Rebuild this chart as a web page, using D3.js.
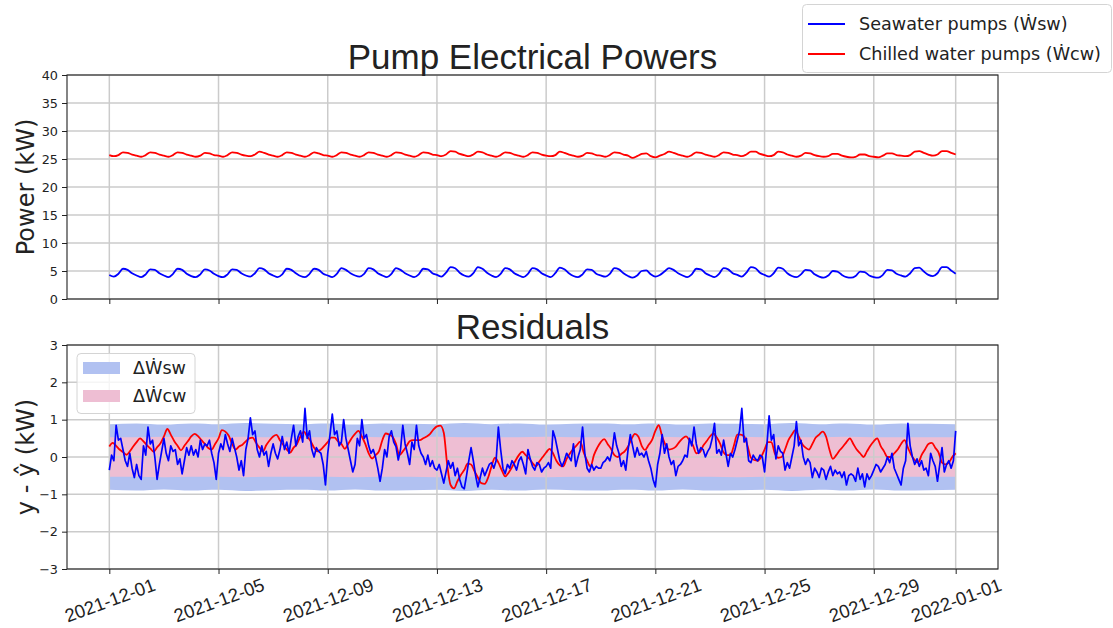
<!DOCTYPE html>
<html>
<head>
<meta charset="utf-8">
<script src="https://cdn.jsdelivr.net/npm/d3@7"></script>
<style>
  body { margin: 0; background: #fff; }
  svg text { font-family: "DejaVu Sans", sans-serif; fill: #222; }
</style>
</head>
<body>
<div id="plot"></div>
<script>
// series start 2021-12-01 00:00 UTC
var startDate = "2021-12-01";
var powerStepHours = 4;   // top panel sampling
var swResidStepHours = 2; // seawater residual sampling
var cwResidStepHours = 3; // chilled residual sampling
var bandStepHours = 24;

// Seawater pumps power (kW), 6 samples a day
var seawaterPower = [
  4.3, 4.0, 4.5, 5.4, 5.2, 4.6,
  4.2, 3.9, 4.4, 5.3, 5.2, 4.6,
  4.2, 3.9, 4.5, 5.4, 5.2, 4.5,
  4.1, 3.9, 4.4, 5.3, 5.1, 4.5,
  4.1, 3.9, 4.4, 5.3, 5.2, 4.6,
  4.2, 4.0, 4.6, 5.5, 5.3, 4.6,
  4.2, 3.9, 4.4, 5.4, 5.2, 4.6,
  4.1, 3.9, 4.5, 5.4, 5.2, 4.5,
  4.2, 3.9, 4.5, 5.5, 5.2, 4.6,
  4.2, 4.0, 4.5, 5.5, 5.3, 4.6,
  4.2, 3.9, 4.5, 5.5, 5.2, 4.6,
  4.2, 3.9, 4.4, 5.4, 5.3, 4.6,
  4.3, 4.0, 4.7, 5.7, 5.5, 4.7,
  4.2, 4.0, 4.6, 5.7, 5.4, 4.7,
  4.2, 3.9, 4.5, 5.5, 5.3, 4.6,
  4.2, 3.9, 4.5, 5.5, 5.3, 4.6,
  4.2, 3.9, 4.6, 5.6, 5.3, 4.6,
  4.1, 3.9, 4.4, 5.3, 5.2, 4.5,
  4.2, 4.0, 4.5, 5.5, 5.3, 4.6,
  4.1, 3.8, 4.2, 5.0, 5.1, 4.4,
  4.0, 4.3, 4.9, 5.5, 5.2, 4.6,
  4.2, 3.9, 4.4, 5.4, 5.3, 4.6,
  4.2, 3.9, 4.5, 5.5, 5.3, 4.6,
  4.3, 4.0, 4.7, 5.7, 5.5, 4.7,
  4.3, 4.0, 4.6, 5.6, 5.4, 4.6,
  4.1, 3.9, 4.4, 5.2, 5.1, 4.4,
  4.0, 3.8, 4.2, 5.0, 4.9, 4.3,
  3.9, 3.8, 4.1, 4.9, 4.8, 4.2,
  3.9, 3.8, 4.3, 5.2, 5.1, 4.5,
  4.2, 4.0, 4.6, 5.5, 5.6, 4.9,
  4.3, 4.1, 4.6, 5.7, 5.7, 5.1,
  4.5
];

// Chilled water pumps power (kW), 6 samples a day
var chilledPower = [
  25.7, 25.5, 25.7, 26.2, 26.1, 25.8,
  25.6, 25.4, 25.7, 26.2, 26.1, 25.8,
  25.6, 25.4, 25.7, 26.2, 26.1, 25.8,
  25.6, 25.4, 25.6, 26.1, 26.0, 25.7,
  25.6, 25.4, 25.7, 26.2, 26.1, 25.8,
  25.6, 25.5, 25.8, 26.3, 26.1, 25.8,
  25.6, 25.4, 25.7, 26.2, 26.1, 25.8,
  25.6, 25.4, 25.7, 26.2, 26.0, 25.7,
  25.6, 25.4, 25.7, 26.2, 26.1, 25.8,
  25.6, 25.4, 25.7, 26.2, 26.1, 25.8,
  25.6, 25.4, 25.7, 26.2, 26.1, 25.8,
  25.6, 25.4, 25.7, 26.2, 26.1, 25.8,
  25.7, 25.5, 25.8, 26.4, 26.3, 25.9,
  25.7, 25.5, 25.8, 26.3, 26.2, 25.8,
  25.6, 25.4, 25.7, 26.2, 26.1, 25.8,
  25.6, 25.4, 25.7, 26.2, 26.1, 25.8,
  25.6, 25.5, 25.7, 26.3, 26.1, 25.8,
  25.6, 25.4, 25.6, 26.1, 26.0, 25.7,
  25.6, 25.4, 25.7, 26.2, 26.1, 25.8,
  25.6, 25.2, 25.5, 25.9, 26.0, 25.5,
  25.3, 25.6, 25.9, 26.3, 26.1, 25.8,
  25.6, 25.4, 25.7, 26.2, 26.1, 25.8,
  25.6, 25.4, 25.7, 26.2, 26.1, 25.8,
  25.7, 25.5, 25.8, 26.3, 26.3, 25.9,
  25.7, 25.5, 25.7, 26.3, 26.2, 25.8,
  25.6, 25.4, 25.6, 26.1, 26.0, 25.7,
  25.5, 25.4, 25.5, 25.9, 25.9, 25.6,
  25.4, 25.3, 25.4, 25.8, 25.8, 25.5,
  25.4, 25.3, 25.6, 26.0, 26.0, 25.7,
  25.6, 25.5, 25.7, 26.3, 26.4, 26.1,
  25.8, 25.6, 25.8, 26.4, 26.4, 26.1,
  25.8
];

// Seawater residual y - yhat (kW), 12 samples a day
var seawaterResid = [
  -0.35, 0.05, -0.1, 0.85, 0.45, 0.5, 0.2, -0.1, -0.25, 0.1, -0.3, -0.55,
  -0.2, -0.5, -0.6, 0.3, 0.05, 0.8, 0.35, 0.45, 0.0, -0.6, -0.2, 0.15,
  0.5, 0.1, -0.1, 0.3, 0.15, 0.2, -0.2, -0.05, -0.45, -0.1, 0.25, 0.05,
  0.3, 0.05, 0.2, 0.0, 0.45, 0.2, 0.35, 0.3, 0.45, 0.1, -0.15, -0.6,
  0.1, 0.35, 0.2, 0.6, 0.35, 0.15, 0.5, 0.25, 0.0, -0.35, -0.1, -0.5,
  0.2, 0.5, 1.05, 0.6, 0.7, 0.2, 0.0, 0.3, 0.05, 0.15, -0.25, 0.1,
  0.35, 0.1, -0.05, 0.2, 0.55, 0.2, 0.4, 0.1, 0.5, 0.85, 0.3, 0.55,
  0.7, 0.4, 1.3, 0.5, 0.7, 0.2, 0.0, 0.25, 0.15, 0.1, -0.2, -0.75,
  0.1, 0.6, 1.15, 0.6, 0.7, 0.3, 0.4, 1.0, 0.5, 0.2, -0.1, -0.4,
  -0.2, 0.5, 0.3, 1.0, 0.5, 0.6, 0.3, 0.1, 0.2, 0.0, -0.3, -0.65,
  -0.3, 0.2, 0.0, 0.55, 0.7, 0.4, 0.28, -0.08, 0.2, 0.85, 0.35, 0.1,
  -0.2, 0.4, 0.2, 0.85, 0.3, 0.1, 0.0, -0.2, 0.05, -0.25, -0.1, -0.3,
  -0.35, -0.2, -0.45, -0.7, -0.4, -0.1, -0.3, -0.15, -0.5, -0.3, -0.6, -0.8,
  -0.85, -0.5, -0.1, 0.25, -0.1, -0.5, -0.8, -0.55, -0.3, -0.5, -0.35, -0.2,
  -0.15, -0.3, -0.1, 0.8, 0.2, -0.3, -0.45, -0.2, -0.3, -0.1, -0.2, -0.35,
  -0.1, 0.0, -0.2, -0.45, 0.2, -0.05, -0.25, -0.35, -0.15, -0.2, -0.4, -0.3,
  -0.25, -0.15, -0.3, 0.7, 0.5, 0.2, -0.1, -0.25, -0.1, 0.1, 0.0, -0.1,
  0.35, -0.25, 0.0, 0.2, 0.8, 0.1, -0.3, -0.4, -0.2, -0.35, -0.25, -0.3,
  -0.3, -0.15, -0.1, 0.0, -0.1, 0.15, 0.65, 0.3, 0.1, -0.25, -0.1, -0.35,
  0.2, 0.6, 0.3, 0.0, 0.25, 0.05, 0.1, 0.0, 0.15, -0.1, -0.3, -0.6,
  -0.8, -0.2, 0.1, 0.6, 0.1, 0.35, 0.0, -0.2, -0.1, -0.5, -0.25, -0.2,
  -0.1, 0.05, 0.0, 0.5, 0.3, 0.8, 0.35, 0.1, 0.25, 0.2, 0.0, 0.15,
  0.25, 0.5, 0.9, 0.1, 0.2, 0.05, 0.45, 0.1, -0.25, 0.1, 0.0, 0.2,
  0.45, 0.7, 1.3, 0.4, 0.5, -0.1, -0.15, 0.05, -0.05, -0.1, 0.05, 0.0,
  -0.4, 0.3, 1.1, 0.45, 0.6, -0.05, 0.3, 0.15, 0.1, -0.35, -0.15, -0.3,
  0.0, 0.3, 0.95, 0.3, 0.45, 0.0, -0.2, -0.05, -0.15, -0.55, -0.3, -0.4,
  -0.55, -0.3, -0.35, -0.6, -0.4, -0.25, -0.5, -0.35, -0.45, -0.4, -0.55, -0.4,
  -0.75, -0.5, -0.45, -0.5, -0.65, -0.3, -0.6, -0.45, -0.8, -0.45, -0.6, -0.5,
  -0.35, -0.2, -0.25, -0.4, -0.3, -0.2, 0.0, -0.15, 0.1, -0.3, -0.45, -0.6,
  -0.75, -0.3, -0.1, 0.9, 0.3, 0.0, -0.2, -0.05, -0.25, -0.1, -0.35, -0.3,
  -0.5, 0.1, -0.1, -0.25, -0.65, -0.2, 0.25, -0.4, -0.2, -0.1, -0.3, -0.1,
  0.7
];

// Chilled water residual y - yhat (kW), 8 samples a day
var chilledResid = [
  0.28, 0.38, 0.3, 0.2, 0.13, 0.06, 0.15, 0.28,
  0.4, 0.5, 0.42, 0.32, 0.23, 0.14, 0.26, 0.37,
  0.55, 0.75, 0.6, 0.43, 0.3, 0.18, 0.3, 0.42,
  0.55, 0.62, 0.56, 0.45, 0.35, 0.24, 0.2, 0.35,
  0.5, 0.72, 0.68, 0.57, 0.35, 0.2, 0.28, 0.33,
  0.42, 0.5, 0.52, 0.38, 0.25, 0.15, 0.32, 0.45,
  0.55, 0.59, 0.45, 0.32, 0.2, 0.12, 0.25, 0.35,
  0.55, 0.68, 0.55, 0.42, 0.25, 0.15, 0.2, 0.3,
  0.4, 0.52, 0.52, 0.42, 0.35, 0.22, 0.35, 0.5,
  0.62, 0.7, 0.55, 0.35, 0.1, -0.04, 0.05, 0.15,
  0.45, 0.63, 0.6, 0.54, 0.35, 0.05, 0.15, 0.28,
  0.42, 0.45, 0.45, 0.45, 0.5, 0.55, 0.62, 0.74,
  0.82, 0.84, 0.65, -0.2, -0.75, -0.84, -0.65, -0.48,
  -0.35, -0.18, -0.2, -0.38, -0.55, -0.7, -0.72, -0.55,
  -0.25, -0.02, -0.15, -0.35, -0.52, -0.42, -0.27, -0.1,
  0.05, 0.14, 0.05, -0.04, -0.16, -0.25, -0.12, 0.0,
  0.12, 0.22, 0.1, -0.1, -0.22, -0.25, -0.05, 0.1,
  0.22, 0.32, 0.41, 0.12, -0.1, -0.26, 0.05, 0.25,
  0.4, 0.48, 0.35, 0.22, 0.05, 0.0, 0.08, 0.15,
  0.28, 0.48, 0.62, 0.55, 0.3, 0.19, 0.32, 0.45,
  0.7, 0.85, 0.55, 0.32, 0.2, 0.22, 0.28, 0.4,
  0.5, 0.55, 0.45, 0.32, 0.1, 0.12, 0.3, 0.42,
  0.55, 0.63, 0.52, 0.35, 0.12, 0.05, 0.05, 0.3,
  0.6, 0.6, 0.55, 0.3, -0.02, -0.08, -0.1, 0.0,
  0.2, 0.4, 0.4, 0.1, -0.02, 0.0, 0.2, 0.45,
  0.6, 0.72, 0.55, 0.35, 0.25, 0.2, 0.35, 0.52,
  0.6, 0.68, 0.55, 0.2, -0.05, 0.05, 0.18, 0.28,
  0.4, 0.5, 0.35, 0.2, 0.1, 0.0, 0.15, 0.3,
  0.42, 0.5, 0.3, 0.15, 0.0, 0.0, 0.1, 0.2,
  0.35, 0.45, 0.25, 0.05, -0.08, -0.15, 0.05, 0.2,
  0.35, 0.38, 0.25, 0.12, -0.15, -0.2, -0.15, 0.0,
  0.1
];

// uncertainty band half widths (kW), one per day
var seawaterBand = [0.88, 0.9, 0.87, 0.9, 0.88, 0.91, 0.89, 0.88, 0.9, 0.87, 0.9, 0.89, 0.88, 0.91, 0.88, 0.9,
                    0.87, 0.89, 0.9, 0.88, 0.9, 0.87, 0.9, 0.89, 0.88, 0.91, 0.88, 0.9, 0.87, 0.9, 0.89, 0.88];
var chilledBand = [0.53, 0.53, 0.54, 0.53, 0.53, 0.54, 0.53, 0.53, 0.53, 0.54, 0.53, 0.53, 0.54, 0.53, 0.53, 0.53,
                   0.54, 0.53, 0.53, 0.53, 0.54, 0.53, 0.53, 0.54, 0.53, 0.53, 0.53, 0.54, 0.53, 0.53, 0.53, 0.53];

var xTickLabels = ["2021-12-01", "2021-12-05", "2021-12-09", "2021-12-13", "2021-12-17",
                   "2021-12-21", "2021-12-25", "2021-12-29", "2022-01-01"];
var powerTicks = [0, 5, 10, 15, 20, 25, 30, 35, 40];
var residTicks = [-3, -2, -1, 0, 1, 2, 3];

var powerNames = ["Seawater pumps (Ẇsw)", "Chilled water pumps (Ẇcw)"];
var residNames = ["ΔẆsw", "ΔẆcw"];

var width = 1113, height = 628;
var left = 67, right = 998;
var topY = [75, 299], botY = [345, 569];
var gridColor = "#cbcbcb";

var parse = d3.utcParse("%Y-%m-%d");
var t0 = parse(startDate);
var tickDates = xTickLabels.map(parse);

function series(vals, stepHours) {
  return vals.map(function(v, i) { return { t: new Date(+t0 + i * stepHours * 36e5), v: v }; });
}

var sw = series(seawaterPower, powerStepHours);
var cw = series(chilledPower, powerStepHours);
var swR = series(seawaterResid, swResidStepHours);
var cwR = series(chilledResid, cwResidStepHours);
var swB = series(seawaterBand, bandStepHours);
var cwB = series(chilledBand, bandStepHours);

var tEnd = tickDates[tickDates.length - 1];
var pad = 0.05 * (tEnd - t0);
var x = d3.scaleUtc()
  .domain([new Date(+t0 - pad), new Date(+tEnd + pad)])
  .range([left, right]);
var yTop = d3.scaleLinear().domain([0, 40]).range(topY.slice().reverse());
var yBot = d3.scaleLinear().domain([-3, 3]).range(botY.slice().reverse());

var svg = d3.select("#plot").append("svg")
  .attr("width", width).attr("height", height);

function minus(d) { return d < 0 ? "\u2212" + Math.abs(d) : "" + d; }

function drawGrid(g, y, yTicks, yr) {
  g.selectAll(".hg").data(yTicks).join("line")
    .attr("x1", left).attr("x2", right)
    .attr("y1", d => y(d)).attr("y2", d => y(d))
    .attr("stroke", gridColor).attr("stroke-width", 1.5);
  g.selectAll(".vg").data(tickDates).join("line")
    .attr("x1", d => x(d)).attr("x2", d => x(d))
    .attr("y1", yr[0]).attr("y2", yr[1])
    .attr("stroke", gridColor).attr("stroke-width", 1.5);
}

function drawAxes(y, yTicks, yr, withLabels) {
  var ya = svg.append("g")
    .attr("transform", `translate(${left},0)`)
    .call(d3.axisLeft(y).tickValues(yTicks).tickSize(5).tickPadding(4).tickFormat(minus));
  ya.select(".domain").remove();
  ya.selectAll("line").attr("stroke", "#222").attr("stroke-width", 1);
  ya.selectAll("text").style("font-size", "12.8px").attr("fill", "#222");

  var xa = svg.append("g")
    .attr("transform", `translate(0,${yr[1]})`)
    .call(d3.axisBottom(x).tickValues(tickDates).tickSize(5)
      .tickFormat(withLabels ? d3.utcFormat("%Y-%m-%d") : ""));
  xa.select(".domain").remove();
  xa.selectAll("line").attr("stroke", "#222").attr("stroke-width", 1);
  if (withLabels) {
    xa.selectAll("text")
      .attr("y", 0).attr("dy", "0.36em")
      .attr("text-anchor", "middle")
      .attr("transform", "translate(0,31) rotate(-20)")
      .style("font-family", "'Liberation Sans', Arial, sans-serif")
      .style("font-size", "18.5px")
      .attr("fill", "#111");
  }

  svg.append("rect")
    .attr("x", left).attr("y", yr[0])
    .attr("width", right - left).attr("height", yr[1] - yr[0])
    .attr("fill", "none").attr("stroke", "#222").attr("stroke-width", 1.1);
}

// ---- top panel ----
var gTop = svg.append("g");
drawGrid(gTop, yTop, powerTicks, topY);

var lineTop = d3.line().x(d => x(d.t)).y(d => yTop(d.v)).curve(d3.curveMonotoneX);
gTop.append("path").datum(sw).attr("d", lineTop)
  .attr("fill", "none").attr("stroke", "#0000ff").attr("stroke-width", 1.8);
gTop.append("path").datum(cw).attr("d", lineTop)
  .attr("fill", "none").attr("stroke", "#ff0000").attr("stroke-width", 1.8);
drawAxes(yTop, powerTicks, topY, false);

// ---- bottom panel ----
var gBot = svg.append("g");
var band = d3.area().x(d => x(d.t)).y0(d => yBot(-d.v)).y1(d => yBot(d.v)).curve(d3.curveMonotoneX);
gBot.append("path").datum(swB).attr("d", band).attr("fill", "#b1c1f1");
gBot.append("path").datum(cwB).attr("d", band).attr("fill", "#eebed3");
drawGrid(gBot, yBot, residTicks, botY);

var lineBot = d3.line().x(d => x(d.t)).y(d => yBot(d.v));
gBot.append("path").datum(cwR).attr("d", lineBot.curve(d3.curveMonotoneX))
  .attr("fill", "none").attr("stroke", "#ff0000").attr("stroke-width", 1.8);
gBot.append("path").datum(swR).attr("d", lineBot.curve(d3.curveLinear))
  .attr("fill", "none").attr("stroke", "#0000ff").attr("stroke-width", 1.7)
  .attr("stroke-linejoin", "round");
drawAxes(yBot, residTicks, botY, true);

// ---- titles and labels ----
var cx = (left + right) / 2;
svg.append("text").attr("x", cx).attr("y", 69).attr("text-anchor", "middle")
  .style("font-family", "'Liberation Sans', Arial, sans-serif").style("font-size", "35px").attr("fill", "#000")
  .text("Pump Electrical Powers");
svg.append("text").attr("x", cx).attr("y", 339).attr("text-anchor", "middle")
  .style("font-family", "'Liberation Sans', Arial, sans-serif").style("font-size", "35px").attr("fill", "#000")
  .text("Residuals");

svg.append("text").attr("transform", `translate(34,${(topY[0] + topY[1]) / 2}) rotate(-90)`)
  .attr("text-anchor", "middle").style("font-size", "24px").attr("fill", "#111")
  .text("Power (kW)");
svg.append("text").attr("transform", `translate(34,${(botY[0] + botY[1]) / 2}) rotate(-90)`)
  .attr("text-anchor", "middle").style("font-size", "24px").attr("fill", "#111")
  .text("y - ŷ (kW)");

// ---- legends ----
var lgTop = svg.append("g");
lgTop.append("rect").attr("x", 802.5).attr("y", 4.5).attr("width", 309).attr("height", 68).attr("rx", 4)
  .attr("fill", "#fff").attr("fill-opacity", 0.8).attr("stroke", "#d4d4d4");
[["#0000ff", 24], ["#ff0000", 54]].forEach(function(s, i) {
  lgTop.append("line").attr("x1", 808).attr("x2", 845).attr("y1", s[1]).attr("y2", s[1])
    .attr("stroke", s[0]).attr("stroke-width", 1.8);
  lgTop.append("text").attr("x", 859).attr("y", s[1]).attr("dy", "0.36em")
    .style("font-size", "17.6px").text(powerNames[i]);
});

var lgBot = svg.append("g");
lgBot.append("rect").attr("x", 77).attr("y", 353.5).attr("width", 118).attr("height", 60).attr("rx", 4)
  .attr("fill", "#fff").attr("fill-opacity", 0.8).attr("stroke", "#d4d4d4");
[["#b1c1f1", 368], ["#eebed3", 396]].forEach(function(s, i) {
  lgBot.append("rect").attr("x", 83).attr("y", s[1] - 6).attr("width", 37).attr("height", 12)
    .attr("fill", s[0]);
  lgBot.append("text").attr("x", 133).attr("y", s[1]).attr("dy", "0.36em")
    .style("font-size", "17.6px").text(residNames[i]);
});
</script>
</body>
</html>
